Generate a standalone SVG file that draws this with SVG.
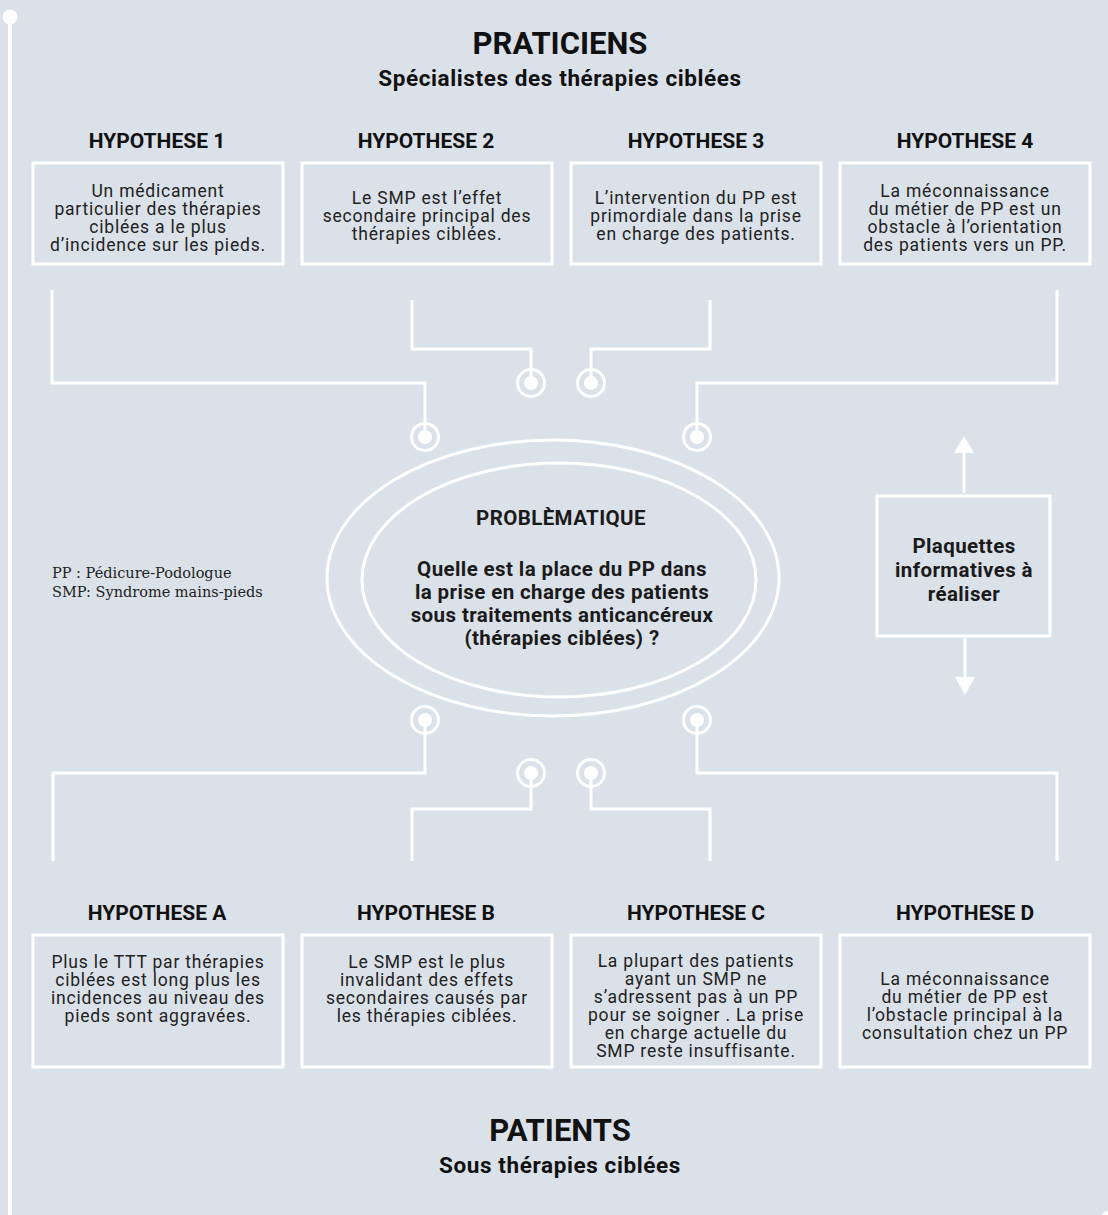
<svg xmlns="http://www.w3.org/2000/svg" width="1108" height="1215" viewBox="0 0 1108 1215">
<style>
.title{font-family:Roboto,"Liberation Sans",sans-serif;font-weight:700;font-size:31px;fill:#111;text-anchor:middle}
.sub{font-family:Roboto,"Liberation Sans",sans-serif;font-weight:700;font-size:22.5px;letter-spacing:0.6px;fill:#111;text-anchor:middle}
.hh{font-family:Roboto,"Liberation Sans",sans-serif;font-weight:700;font-size:21px;fill:#111;text-anchor:middle}
.bt{font-family:Roboto,"Liberation Sans",sans-serif;font-weight:400;font-size:17.5px;letter-spacing:0.8px;fill:#222;text-anchor:middle}
.q{font-family:Roboto,"Liberation Sans",sans-serif;font-weight:700;font-size:20.5px;letter-spacing:0.4px;fill:#1a1a1a;text-anchor:middle}
.leg{font-family:"DejaVu Serif","Liberation Serif",serif;font-size:14.5px;fill:#222}
.box{fill:none;stroke:#fff;stroke-width:3}
.wire{fill:none;stroke:#fff;stroke-width:3}
.ring{fill:none;stroke:#fff;stroke-width:3}
.dot{fill:#fff}
</style>
<defs>
<g id="pin"><circle r="13.5" class="ring"/><circle r="7" class="dot"/></g>
</defs>
<rect width="1108" height="1215" fill="#dbe1e9"/>
<g id="frame">
<line x1="10" y1="17" x2="10" y2="1215" stroke="#fff" stroke-width="4"/>
<circle cx="10" cy="17" r="7.5" fill="#fff"/>
<circle cx="1107" cy="1216" r="5" fill="#fff"/>
</g>
<g id="connectors">
<polyline class="wire" points="52,290 52,383 425,383 425,437"/>
<polyline class="wire" points="412,300 412,349 531,349 531,383"/>
<polyline class="wire" points="710,300 710,349 591,349 591,383"/>
<polyline class="wire" points="1057,290 1057,383 697,383 697,437"/>
<use href="#pin" x="425" y="437"/>
<use href="#pin" x="531" y="383"/>
<use href="#pin" x="591" y="383"/>
<use href="#pin" x="697" y="437"/>
<polyline class="wire" points="53,861 53,773 425,773 425,720"/>
<polyline class="wire" points="412,861 412,809 531,809 531,773"/>
<polyline class="wire" points="710,861 710,809 591,809 591,773"/>
<polyline class="wire" points="1057,861 1057,773 697,773 697,720"/>
<use href="#pin" x="425" y="720"/>
<use href="#pin" x="531" y="773"/>
<use href="#pin" x="591" y="773"/>
<use href="#pin" x="697" y="720"/>
<line x1="964" y1="493" x2="964" y2="452" stroke="#fff" stroke-width="3"/>
<polygon points="964,436 954,453 974,453" fill="#fff"/>
<line x1="965" y1="638" x2="965" y2="678" stroke="#fff" stroke-width="3"/>
<polygon points="965,695 955,677 975,677" fill="#fff"/>
</g>
<g id="header-praticiens">
<text class="title" x="560" y="54">PRATICIENS</text>
<text class="sub" x="560" y="86">Spécialistes des thérapies ciblées</text>
</g>
<g id="hyp1">
<text class="hh" x="157" y="148">HYPOTHESE 1</text>
<rect class="box" x="33" y="163" width="250" height="101"/>
<text class="bt" x="158" y="197">Un médicament</text>
<text class="bt" x="158" y="215">particulier des thérapies</text>
<text class="bt" x="158" y="233">ciblées a le plus</text>
<text class="bt" x="158" y="251">d’incidence sur les pieds.</text>
</g>
<g id="hyp2">
<text class="hh" x="426" y="148">HYPOTHESE 2</text>
<rect class="box" x="302" y="163" width="250" height="101"/>
<text class="bt" x="427" y="204">Le SMP est l’effet</text>
<text class="bt" x="427" y="222">secondaire principal des</text>
<text class="bt" x="427" y="240">thérapies ciblées.</text>
</g>
<g id="hyp3">
<text class="hh" x="696" y="148">HYPOTHESE 3</text>
<rect class="box" x="571" y="163" width="250" height="101"/>
<text class="bt" x="696" y="204">L’intervention du PP est</text>
<text class="bt" x="696" y="222">primordiale dans la prise</text>
<text class="bt" x="696" y="240">en charge des patients.</text>
</g>
<g id="hyp4">
<text class="hh" x="965" y="148">HYPOTHESE 4</text>
<rect class="box" x="840" y="163" width="250" height="101"/>
<text class="bt" x="965" y="197">La méconnaissance</text>
<text class="bt" x="965" y="215">du métier de PP est un</text>
<text class="bt" x="965" y="233">obstacle à l’orientation</text>
<text class="bt" x="965" y="251">des patients vers un PP.</text>
</g>
<g id="problematique">
<ellipse cx="553" cy="578" rx="226" ry="138" fill="none" stroke="#fff" stroke-width="3"/>
<ellipse cx="559" cy="580" rx="197" ry="117" fill="none" stroke="#fff" stroke-width="3"/>
<text class="q" x="561" y="525" font-size="23">PROBLÈMATIQUE</text>
<text class="q" x="562" y="576">Quelle est la place du PP dans</text>
<text class="q" x="562" y="599">la prise en charge des patients</text>
<text class="q" x="562" y="622">sous traitements anticancéreux</text>
<text class="q" x="562" y="645">(thérapies ciblées) ?</text>
</g>
<g id="legend">
<text class="leg" x="52" y="578">PP : Pédicure-Podologue</text>
<text class="leg" x="52" y="597">SMP: Syndrome mains-pieds</text>
</g>
<g id="plaquettes">
<rect class="box" x="877" y="496" width="173" height="140"/>
<text class="q" x="964" y="553">Plaquettes</text>
<text class="q" x="964" y="577">informatives à</text>
<text class="q" x="964" y="601">réaliser</text>
</g>
<g id="hypA">
<text class="hh" x="157" y="920">HYPOTHESE A</text>
<rect class="box" x="33" y="935" width="250" height="132"/>
<text class="bt" x="158" y="968">Plus le TTT par thérapies</text>
<text class="bt" x="158" y="986">ciblées est long plus les</text>
<text class="bt" x="158" y="1004">incidences au niveau des</text>
<text class="bt" x="158" y="1022">pieds sont aggravées.</text>
</g>
<g id="hypB">
<text class="hh" x="426" y="920">HYPOTHESE B</text>
<rect class="box" x="302" y="935" width="250" height="132"/>
<text class="bt" x="427" y="968">Le SMP est le plus</text>
<text class="bt" x="427" y="986">invalidant des effets</text>
<text class="bt" x="427" y="1004">secondaires causés par</text>
<text class="bt" x="427" y="1022">les thérapies ciblées.</text>
</g>
<g id="hypC">
<text class="hh" x="696" y="920">HYPOTHESE C</text>
<rect class="box" x="571" y="935" width="250" height="132"/>
<text class="bt" x="696" y="967">La plupart des patients</text>
<text class="bt" x="696" y="985">ayant un SMP ne</text>
<text class="bt" x="696" y="1003">s’adressent pas à un PP</text>
<text class="bt" x="696" y="1021">pour se soigner . La prise</text>
<text class="bt" x="696" y="1039">en charge actuelle du</text>
<text class="bt" x="696" y="1057">SMP reste insuffisante.</text>
</g>
<g id="hypD">
<text class="hh" x="965" y="920">HYPOTHESE D</text>
<rect class="box" x="840" y="935" width="250" height="132"/>
<text class="bt" x="965" y="985">La méconnaissance</text>
<text class="bt" x="965" y="1003">du métier de PP est</text>
<text class="bt" x="965" y="1021">l’obstacle principal à la</text>
<text class="bt" x="965" y="1039">consultation chez un PP</text>
</g>
<g id="header-patients">
<text class="title" x="560" y="1141">PATIENTS</text>
<text class="sub" x="560" y="1173">Sous thérapies ciblées</text>
</g>
</svg>
